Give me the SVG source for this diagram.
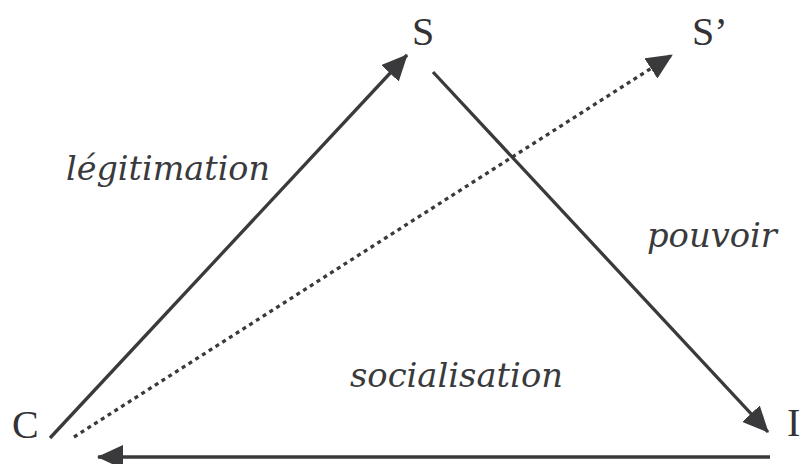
<svg xmlns="http://www.w3.org/2000/svg" width="803" height="464" viewBox="0 0 803 464">
<defs>
<marker id="ah" viewBox="0 0 26 24" refX="25" refY="12" markerWidth="26" markerHeight="24" orient="auto" markerUnits="userSpaceOnUse">
<path d="M0,0 L26,12 L0,24 z" fill="#3a3a3c"/>
</marker>
<style>
.lbl{font-family:"Liberation Serif","Times New Roman",serif;font-size:40px;fill:#333335}
.it{font-family:"DejaVu Serif",serif;font-style:italic;font-size:34px;fill:#3a3a3c}
.ln{stroke:#3a3a3c;stroke-width:3.3;fill:none}
.dot{stroke-dasharray:4 4}
</style>
</defs>
<rect width="803" height="464" fill="#ffffff"/>
<g id="connectors">
<line class="ln" x1="50" y1="438" x2="407" y2="55" marker-end="url(#ah)"/>
<line class="ln" x1="433" y1="72" x2="768" y2="432" marker-end="url(#ah)"/>
<line class="ln" x1="770" y1="457" x2="98" y2="457" marker-end="url(#ah)"/>
<line class="ln dot" x1="74" y1="437" x2="672" y2="55" marker-end="url(#ah)"/>
</g>
<g id="node-S"><text class="lbl" x="412" y="45">S</text></g>
<g id="node-S2"><text class="lbl" x="692" y="45">S’</text></g>
<g id="node-C"><text class="lbl" x="12" y="438">C</text></g>
<g id="node-I"><text class="lbl" x="787" y="436">I</text></g>
<g id="label-legitimation"><text class="it" x="66" y="180" textLength="204" lengthAdjust="spacingAndGlyphs">légitimation</text></g>
<g id="label-pouvoir"><text class="it" x="647" y="247" textLength="130" lengthAdjust="spacingAndGlyphs">pouvoir</text></g>
<g id="label-socialisation"><text class="it" x="350" y="387" textLength="213" lengthAdjust="spacingAndGlyphs">socialisation</text></g>
</svg>
